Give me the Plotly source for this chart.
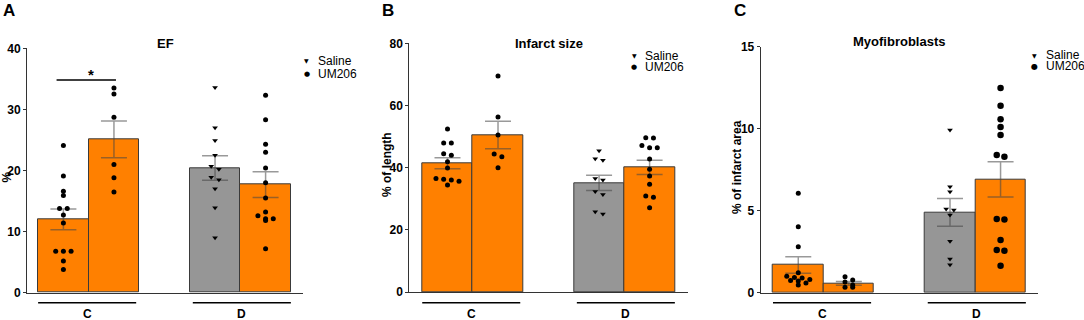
import plotly.graph_objects as go

# ---------------- data ----------------
groups = ["C", "D"]
legend_labels = ["Saline", "UM206"]
panel_letters = ["A", "B", "C"]
panel_titles = ["EF", "Infarct size", "Myofibroblasts"]
y_titles = ["%", "% of length", "% of infarct area"]

# bar order: C-1, C-2, D-1, D-2
ef_means = [12.0, 25.1, 20.4, 17.7]
ef_sem = [1.7, 3.0, 2.0, 2.1]
ef_c1 = [24.1, 19.1, 16.6, 15.9, 13.8, 13.8, 12.7, 11.4, 6.8, 6.8, 6.8, 5.2, 3.8]
ef_c2 = [33.5, 32.5, 28.7, 21.0, 18.8, 16.5]
ef_d1 = [33.6, 27.0, 24.9, 22.5, 20.7, 20.2, 18.9, 18.5, 17.0, 13.9, 9.0]
ef_d2 = [32.3, 28.3, 24.3, 23.0, 20.4, 18.0, 15.5, 13.2, 12.6, 12.1, 12.1, 11.8, 7.2]

inf_means = [41.4, 50.5, 35.1, 40.1]
inf_sem = [1.75, 4.4, 2.45, 2.3]
inf_c1 = [52.4, 47.9, 47.9, 44.5, 44.0, 41.9, 39.9, 36.5, 36.3, 36.0, 35.6, 34.4]
inf_c2 = [69.5, 56.3, 50.5, 44.4, 43.5, 40.0]
inf_d1 = [45.4, 42.9, 42.4, 36.5, 36.0, 32.3, 31.4, 25.8, 25.1]
inf_d2 = [49.6, 49.5, 47.1, 46.4, 46.4, 42.8, 39.5, 37.3, 34.7, 30.9, 30.5, 27.1]

myo_means = [1.69, 0.57, 4.9, 6.91]
myo_sem = [0.5, 0.12, 0.85, 1.08]
myo_c1 = [6.06, 4.02, 2.8, 1.22, 1.0, 0.93, 0.89, 0.81, 0.75, 0.71, 0.59, 0.47]
myo_c2 = [0.98, 0.77, 0.65, 0.47, 0.33, 0.33]
myo_d1 = [9.92, 6.46, 6.16, 5.1, 5.04, 4.74, 3.13, 2.05, 1.71]
myo_d2 = [12.48, 11.4, 10.57, 10.1, 9.61, 8.39, 8.29, 4.49, 4.47, 3.21, 2.6, 2.56, 1.65]

y_max = [40, 80, 15]
y_step = [10, 20, 5]

# ---------------- style / layout ----------------
ORANGE = "#FF8000"
GRAY = "#969696"
bar_colors = [ORANGE, ORANGE, GRAY, ORANGE]
point_symbols = ["circle", "circle", "triangle-down", "circle"]
bar_pos = [0, 1, 3, 4]  # two bars per group, one bar-width gap between groups
W, H = 1084, 320

panels = [
    dict(means=ef_means, sem=ef_sem, pts=[ef_c1, ef_c2, ef_d1, ef_d2],
         xpx=(27, 303), ypx=(48.3, 292.7), xr=(-0.72, 4.74),
         leg=(306.7, 317.5, 60.5, 73.5), title_y=44, ytitle_x=6.5, ytitle_y=177,
         msize=[5, 5, 5, 5], letter_x=9, glyph=7),
    dict(means=inf_means, sem=inf_sem, pts=[inf_c1, inf_c2, inf_d1, inf_d2],
         xpx=(409.3, 688), ypx=(43.3, 292), xr=(-0.756, 4.76),
         leg=(634, 645, 55.7, 67.3), title_y=44, ytitle_x=387, ytitle_y=165,
         msize=[5, 5, 5, 5], letter_x=387.5, glyph=7),
    dict(means=myo_means, sem=myo_sem, pts=[myo_c1, myo_c2, myo_d1, myo_d2],
         xpx=(760.7, 1038), ypx=(46.7, 292.7), xr=(-0.743, 4.74),
         leg=(1034.3, 1045.7, 55, 66), title_y=41.5, ytitle_x=737, ytitle_y=167,
         msize=[5, 5, 5, 6.5], letter_x=740, glyph=8),
]


def swarm_offsets(vals, px_per_unit, thresh_px=3.5, step=0.152):
    """Centered rows: values closer than thresh_px to a row's first value share a row."""
    order = sorted(range(len(vals)), key=lambda i: -vals[i])
    offs = [0.0] * len(vals)
    rows, cur = [], []
    for i in order:
        if cur and (vals[cur[0]] - vals[i]) * px_per_unit > thresh_px:
            rows.append(cur)
            cur = []
        cur.append(i)
    if cur:
        rows.append(cur)
    for row in rows:
        n = len(row)
        for k, i in enumerate(row):
            offs[i] = (k - (n - 1) / 2) * step
    return offs


fig = go.Figure()
annotations = []
shapes = []
BOLD = "Liberation Sans"

for p_i, p in enumerate(panels):
    sfx = "" if p_i == 0 else str(p_i + 1)
    xa, ya = "x" + sfx, "y" + sfx
    px_per_unit = (p["ypx"][1] - p["ypx"][0]) / y_max[p_i]

    fig.add_trace(go.Bar(
        x=bar_pos, y=p["means"], width=1.0, xaxis=xa, yaxis=ya,
        marker=dict(color=bar_colors, line=dict(color="#3a3a3a", width=1)),
        error_y=dict(type="data", array=p["sem"], visible=True,
                     color="rgba(70,70,70,0.55)", thickness=1.5, width=13),
        showlegend=False, hoverinfo="skip"))

    for b, vals in enumerate(p["pts"]):
        offs = swarm_offsets(vals, px_per_unit)
        fig.add_trace(go.Scatter(
            x=[bar_pos[b] + o for o in offs], y=vals, mode="markers",
            xaxis=xa, yaxis=ya, cliponaxis=False,
            marker=dict(symbol=point_symbols[b], color="black",
                        size=p["msize"][b] if point_symbols[b] == "circle" else 5,
                        line=dict(width=0)),
            showlegend=False, hoverinfo="skip"))

    x0, x1 = p["xpx"][0] / W, p["xpx"][1] / W
    y0, y1 = 1 - p["ypx"][1] / H, 1 - p["ypx"][0] / H
    fig.update_layout(**{
        ("xaxis" + sfx): dict(domain=[x0, x1], range=list(p["xr"]), anchor=ya,
                              showline=True, linecolor="#333", linewidth=1,
                              showticklabels=False, ticks="", showgrid=False,
                              zeroline=False, fixedrange=True, automargin=False),
        ("yaxis" + sfx): dict(domain=[y0, y1], range=[0, y_max[p_i]], anchor=xa,
                              dtick=y_step[p_i], showline=True, linecolor="#333",
                              linewidth=1, ticks="outside", ticklen=3,
                              tickcolor="#333", showgrid=False, zeroline=False,
                              tickfont=dict(family=BOLD, size=12, color="black",
                                            weight="bold"),
                              fixedrange=True, automargin=False),
    })

    # group underlines and labels
    for g_i, g in enumerate(groups):
        if g_i == 0:
            gx0, gx1 = bar_pos[0] - 0.5, bar_pos[1] + 0.44
        else:
            gx0, gx1 = bar_pos[2] - 0.44, bar_pos[3] + 0.5
        shapes.append(dict(type="line", xref=xa, yref="paper",
                           x0=gx0, x1=gx1, y0=1 - 302.7 / H, y1=1 - 302.7 / H,
                           line=dict(color="black", width=1.6)))
        annotations.append(dict(xref=xa, yref="paper", x=(gx0 + gx1) / 2,
                                y=1 - 314 / H, text=g, showarrow=False,
                                xanchor="center", yanchor="middle", borderpad=0,
                                font=dict(family=BOLD, size=12, color="black",
                                          weight="bold")))

    # title
    annotations.append(dict(xref="paper", yref="paper", x=(x0 + x1) / 2,
                            y=1 - p["title_y"] / H, text=panel_titles[p_i],
                            showarrow=False, xanchor="center", yanchor="middle",
                            font=dict(family=BOLD, size=13, color="black",
                                      weight="bold")))
    # panel letter
    annotations.append(dict(xref="paper", yref="paper", x=p["letter_x"] / W,
                            y=1 - 10 / H, text=panel_letters[p_i], showarrow=False,
                            xanchor="center", yanchor="middle",
                            font=dict(family=BOLD, size=17, color="black",
                                      weight="bold")))
    # y-axis title
    annotations.append(dict(xref="paper", yref="paper", x=p["ytitle_x"] / W,
                            y=1 - p["ytitle_y"] / H, text=y_titles[p_i],
                            showarrow=False, textangle=-90, xanchor="center",
                            yanchor="middle", borderpad=0,
                            font=dict(family=BOLD, size=12, color="black",
                                      weight="bold")))
    # legend (glyph + label)
    gx, tx, ly1, ly2 = p["leg"]
    for glyph, gsize, label, ly in [("▼", 6, legend_labels[0], ly1),
                                    ("●", p["glyph"], legend_labels[1], ly2)]:
        annotations.append(dict(xref="paper", yref="paper", x=gx / W, y=1 - ly / H,
                                text=glyph, showarrow=False, xanchor="center",
                                yanchor="middle", borderpad=0,
                                font=dict(family="DejaVu Sans", size=gsize,
                                          color="black")))
        annotations.append(dict(xref="paper", yref="paper", x=tx / W, y=1 - ly / H,
                                text=label, showarrow=False, xanchor="left",
                                yanchor="middle", borderpad=0, xshift=-1,
                                font=dict(family="Liberation Sans", size=12,
                                          color="black")))

# significance bar in panel A
sig_y = 34.8
shapes.append(dict(type="line", xref="x", yref="y", x0=-0.135, x1=1.04,
                   y0=sig_y, y1=sig_y, line=dict(color="black", width=1.6)))
annotations.append(dict(xref="x", yref="y", x=0.545, y=sig_y, text="*",
                        showarrow=False, yanchor="bottom", yshift=-5,
                        font=dict(family=BOLD, size=15, color="black",
                                  weight="bold")))

fig.update_layout(
    template="none",
    width=W, height=H, margin=dict(l=0, r=0, t=0, b=0, pad=0),
    paper_bgcolor="white", plot_bgcolor="white",
    showlegend=False, bargap=0,
    annotations=annotations, shapes=shapes,
)

fig.write_html(
    "out.html",
    config={"displayModeBar": False},
    post_script="document.body.style.margin='0';document.body.style.overflow='hidden';",
)
